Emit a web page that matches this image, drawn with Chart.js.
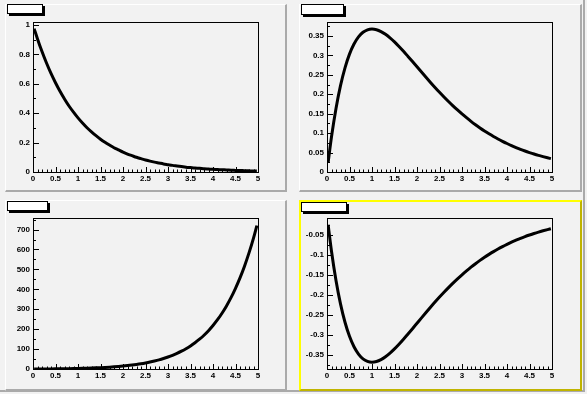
<!DOCTYPE html>
<html>
<head>
<meta charset="utf-8">
<script src="https://cdn.jsdelivr.net/npm/chart.js@4.4.0/dist/chart.umd.min.js"></script>
<style>
  html, body { margin: 0; padding: 0; background: #f2f2f2; }
  #canvasRoot { position: relative; width: 587px; height: 394px; background: #f2f2f2; overflow: hidden; }
  .outer { position: absolute; left: 0; top: 0; width: 583px; height: 390px;
           border-right: 2px solid #aaaaaa; border-bottom: 2px solid #aaaaaa; }
  .pad { position: absolute; box-sizing: border-box; background: #f2f2f2;
         border-left: 1px solid #ffffff; border-top: 1px solid #ffffff;
         border-right: 2px solid #aaaaaa; border-bottom: 2px solid #aaaaaa; }
  .pad.active { border-left: 2px solid #ffff00; border-top: 2px solid #ffff00;
                border-right: 2px solid #c0b400; border-bottom: 2px solid #c0b400; }
  .tbox { position: absolute; box-sizing: border-box; background: #ffffff;
          border: 1px solid #000000; box-shadow: 2px 2px 0 #000000; }
</style>
</head>
<body>
<div id="canvasRoot"><div class="outer"></div></div>
<script>
// sample positions (x) shared by all four pads
var xs = [0.025, 0.1,0.2,0.3,0.4,0.5,0.6,0.7,0.8,0.9,1.0,
          1.1,1.2,1.3,1.4,1.5,1.6,1.7,1.8,1.9,2.0,
          2.1,2.2,2.3,2.4,2.5,2.6,2.7,2.8,2.9,3.0,
          3.1,3.2,3.3,3.4,3.5,3.6,3.7,3.8,3.9,4.0,
          4.1,4.2,4.3,4.4,4.5,4.6,4.7,4.8,4.9, 4.975];

// pad 1 : decaying curve
var decay = [0.975, 0.905,0.819,0.741,0.670,0.607,0.549,0.497,0.449,0.407,0.368,
             0.333,0.301,0.273,0.247,0.223,0.202,0.183,0.165,0.150,0.135,
             0.122,0.111,0.100,0.091,0.082,0.074,0.067,0.061,0.055,0.050,
             0.045,0.041,0.037,0.033,0.030,0.027,0.025,0.022,0.020,0.018,
             0.017,0.015,0.014,0.012,0.011,0.010,0.009,0.008,0.007, 0.0069];

// pad 2 : rise and fall, peak near x=1
var peak = [0.0244, 0.0905,0.1637,0.2222,0.2681,0.3033,0.3293,0.3476,0.3595,0.3659,0.3679,
            0.3662,0.3614,0.3543,0.3452,0.3347,0.3230,0.3106,0.2975,0.2842,0.2707,
            0.2572,0.2438,0.2306,0.2177,0.2052,0.1931,0.1815,0.1703,0.1596,0.1494,
            0.1397,0.1304,0.1217,0.1135,0.1057,0.0984,0.0915,0.0850,0.0790,0.0733,
            0.0679,0.0630,0.0583,0.0540,0.0500,0.0462,0.0427,0.0395,0.0365, 0.0344];

// pad 3 : fast growth
var growth = [0.026, 0.11,0.24,0.41,0.60,0.82,1.09,1.41,1.78,2.21,2.72,
              3.30,3.98,4.77,5.68,6.72,7.92,9.31,10.9,12.7,14.8,
              17.2,19.9,23.0,26.5,30.5,35.0,40.2,46.0,52.7,60.3,
              68.8,78.5,89.5,101.8,115.9,131.7,149.6,169.6,192.4,218.4,
              247.3,280.0,316.7,358.1,405.0,457.3,516.1,582.8,657.0, 720.0];

// pad 4 : dip, minimum near x=1
var dip = [-0.0244, -0.0905,-0.1637,-0.2222,-0.2681,-0.3033,-0.3293,-0.3476,-0.3595,-0.3659,-0.3679,
           -0.3662,-0.3614,-0.3543,-0.3452,-0.3347,-0.3230,-0.3106,-0.2975,-0.2842,-0.2707,
           -0.2572,-0.2438,-0.2306,-0.2177,-0.2052,-0.1931,-0.1815,-0.1703,-0.1596,-0.1494,
           -0.1397,-0.1304,-0.1217,-0.1135,-0.1057,-0.0984,-0.0915,-0.0850,-0.0790,-0.0733,
           -0.0679,-0.0630,-0.0583,-0.0540,-0.0500,-0.0462,-0.0427,-0.0395,-0.0365, -0.0344];

// axis ranges / tick steps
var xRange = [0, 5];
var xMajor = 0.5, xMinor = 0.1;
var yRanges = [[0, 1.02], [0, 0.386], [0, 758], [-0.385, -0.0075]];
var yMajors = [0.2, 0.05, 100, 0.05];
var yMinors = [0.1, 0.025, 50, 0.025];

// pad geometry (page pixels)
var pads = [
  {x: 5,   y: 4,   w: 282, h: 188, frame: [33, 22, 258, 172],  box: [7, 4, 36, 10]},
  {x: 299, y: 4,   w: 283, h: 188, frame: [327, 22, 552, 172], box: [301, 4, 43, 11]},
  {x: 5,   y: 200, w: 282, h: 191, frame: [33, 218, 258, 369], box: [7, 201, 41, 10]},
  {x: 299, y: 200, w: 283, h: 191, frame: [327, 218, 552, 369], box: [301, 202, 46, 10], active: true}
];
var series = [decay, peak, growth, dip];

function onGrid(v, step) {
  var r = v / step;
  return Math.abs(r - Math.round(r)) < 1e-6;
}
function fmt(v) {
  return String(parseFloat(v.toFixed(4)));
}

var innerTicks = {
  id: 'innerTicks',
  afterDraw: function(chart) {
    var ctx = chart.ctx, a = chart.chartArea;
    var sx = chart.scales.x, sy = chart.scales.y;
    var yMaj = chart.options.plugins.innerTicks.major;
    ctx.save();
    ctx.strokeStyle = '#000';
    ctx.lineWidth = 1;
    ctx.strokeRect(Math.round(a.left) + 0.5, Math.round(a.top) + 0.5,
                   Math.round(a.right - a.left), Math.round(a.bottom - a.top));
    ctx.beginPath();
    sx.ticks.forEach(function(t) {
      var px = Math.round(sx.getPixelForValue(t.value)) + 0.5;
      var len = onGrid(t.value, xMajor) ? 5 : 2.5;
      ctx.moveTo(px, Math.round(a.bottom));
      ctx.lineTo(px, Math.round(a.bottom) - len);
    });
    sy.ticks.forEach(function(t) {
      var py = Math.round(sy.getPixelForValue(t.value)) + 0.5;
      var len = onGrid(t.value, yMaj) ? 6 : 3;
      ctx.moveTo(Math.round(a.left), py);
      ctx.lineTo(Math.round(a.left) + len, py);
    });
    ctx.stroke();
    ctx.restore();
  }
};

var root = document.getElementById('canvasRoot');
pads.forEach(function(p, i) {
  var div = document.createElement('div');
  div.className = 'pad' + (p.active ? ' active' : '');
  div.style.left = p.x + 'px';
  div.style.top = p.y + 'px';
  div.style.width = p.w + 'px';
  div.style.height = p.h + 'px';
  root.appendChild(div);

  var cv = document.createElement('canvas');
  cv.width = p.w; cv.height = p.h;
  cv.style.left = p.x + 'px';
  cv.style.top = p.y + 'px';
  cv.style.position = 'absolute';
  root.appendChild(cv);

  var tb = document.createElement('div');
  tb.className = 'tbox';
  tb.style.left = p.box[0] + 'px';
  tb.style.top = p.box[1] + 'px';
  tb.style.width = p.box[2] + 'px';
  tb.style.height = p.box[3] + 'px';
  root.appendChild(tb);

  var yAxisW = 26, xAxisH = 14;
  var fl = p.frame[0] - p.x, ft = p.frame[1] - p.y, fr = p.frame[2] - p.x, fb = p.frame[3] - p.y;
  var pts = xs.map(function(x, k) { return {x: x, y: series[i][k]}; });

  new Chart(cv, {
    type: 'line',
    data: { datasets: [{ data: pts, borderColor: '#000', borderWidth: 3,
                         pointRadius: 0, fill: false, cubicInterpolationMode: 'monotone' }] },
    options: {
      responsive: false,
      animation: false,
      events: [],
      layout: { padding: { left: fl - yAxisW, top: ft, right: p.w - fr, bottom: p.h - fb - xAxisH } },
      plugins: { legend: { display: false }, tooltip: { enabled: false },
                 innerTicks: { major: yMajors[i] } },
      scales: {
        x: {
          type: 'linear', min: xRange[0], max: xRange[1],
          afterFit: function(s) { s.height = xAxisH; },
          afterBuildTicks: function(s) { s.ticks = s.ticks.filter(function(t) { return onGrid(t.value, xMinor); }); },
          grid: { display: false, drawTicks: false },
          border: { display: false },
          ticks: { stepSize: xMinor, includeBounds: false, autoSkip: false, maxRotation: 0, padding: 2,
                   color: '#000', font: { family: 'Liberation Sans', size: 8, weight: 'bold' },
                   callback: function(v) { return onGrid(v, xMajor) ? fmt(v) : ''; } }
        },
        y: {
          type: 'linear', min: yRanges[i][0], max: yRanges[i][1],
          afterFit: function(s) { s.width = yAxisW; },
          afterBuildTicks: function(s) { s.ticks = s.ticks.filter(function(t) { return onGrid(t.value, yMinors[i]); }); },
          grid: { display: false, drawTicks: false },
          border: { display: false },
          ticks: { stepSize: yMinors[i], includeBounds: false, autoSkip: false, padding: 3,
                   color: '#000', font: { family: 'Liberation Sans', size: 8, weight: 'bold' },
                   callback: function(v) { return onGrid(v, yMajors[i]) ? fmt(v) : ''; } }
        }
      }
    },
    plugins: [innerTicks]
  });
});
</script>
</body>
</html>
